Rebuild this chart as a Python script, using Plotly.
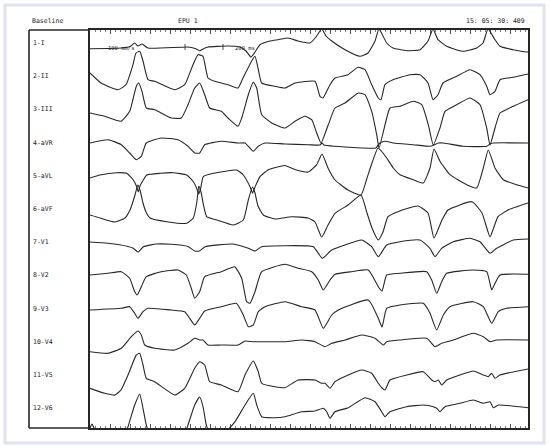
import plotly.graph_objects as go

# ---------------- data (time in ms, amplitude in display units, up = positive) -------------
lead_names = ["1-I", "2-II", "3-III", "4-aVR", "5-aVL", "6-aVF",
              "7-V1", "8-V2", "9-V3", "10-V4", "11-V5", "12-V6"]

t_I = [0, 310, 400, 447, 480, 520, 580, 980, 1050, 1097, 1140, 1180, 1380, 1500, 1560, 1610, 1650, 1700,
       1800, 1880, 1980, 2080, 2200, 2260, 2317, 2360, 2417, 2550, 2700, 2780, 2850, 2890, 2967, 3030,
       3167, 3300, 3380, 3430, 3480, 3567, 3730, 3867, 3930, 3980, 4050, 4100, 4230, 4367, 4380]
a_I = [-5.7, -5, -3.5, 0, -3, -1, -5, -4, -5.5, -7.7, -5.5, -4, -3, -4, -8, -14, -9, -1.7,
       2, 3.3, 5, 2, 0, 6, 14, 7, 2, -6.7, -13.3, -10, 2, 14, 0, -5,
       -7.7, -6.7, 2, 14, 3.3, -3.3, -8.3, -5, 0, 14, 3.3, -3.3, -6.7, -9, -9]

t_II = [0, 110, 280, 360, 430, 460, 497, 530, 580, 647, 847, 947, 1030, 1080, 1130, 1180, 1247, 1380,
        1480, 1530, 1617, 1650, 1680, 1717, 1850, 1950, 2050, 2250, 2300, 2330, 2400, 2450, 2580, 2680,
        2750, 2817, 2883, 2910, 2950, 3030, 3200, 3300, 3380, 3430, 3480, 3530, 3667, 3800, 3900, 3967,
        4000, 4050, 4100, 4230, 4380]
a_II = [3.2, -6.8, -13.5, -8.5, 11.5, 23.2, 24.9, 15.2, -3.5, -5.1, -13.5, -8.5, 11.5, 21.5, 19.9, -1.8, -5.1, -8.5,
        -11.8, -1.8, 15.2, 19.9, 8.2, -6.8, -10.1, -11.8, -6.8, -5.1, -20.1, -21.8, -8.5, -1.8, 1.5, 8.9,
        6.5, -8.5, -21.8, -23.5, -8.5, -3.5, 1.5, 1.5, -6.8, -23.5, -18.5, -6.8, -0.1, 6.5, 1.5, -10.1,
        -18.5, -15.1, -3.5, -1.1, 2.2]

t_III = [0, 147, 310, 397, 463, 487, 520, 563, 647, 813, 913, 980, 1047, 1097, 1147, 1197, 1313, 1380,
         1480, 1517, 1583, 1633, 1667, 1717, 1817, 1950, 2050, 2150, 2217, 2267, 2310, 2383, 2450, 2550,
         2683, 2750, 2817, 2867, 2890, 2967, 3000, 3100, 3233, 3317, 3383, 3433, 3500, 3550, 3667, 3800,
         3900, 3967, 4000, 4050, 4100, 4233, 4380]
a_III = [-3.6, -6.9, -11.9, -1.9, 23.1, 26.4, 18.1, 1.4, -0.3, -8.6, -8.6, 4.7, 21.4, 26.4, 14.7, 1.4, -1.9, -8.6,
         -16.9, -8.6, 14.7, 27.4, 21.4, -5.3, -13.6, -18.6, -11.9, -6.9, -10.3, -23.6, -33.6, -15.3, 1.4, 6.4,
         16.4, 14.7, -1.9, -25.3, -38.6, -8.6, 1.4, 3.1, 8.1, 4.7, -15.3, -35.6, -18.6, -1.9, 4.7, 11.4,
         4.7, -18.6, -35.6, -18.6, -3.6, 3.1, 9.7]

t_aVR = [0, 180, 313, 397, 463, 513, 563, 713, 880, 980, 1047, 1097, 1147, 1313, 1480, 1550, 1633, 1683,
         1750, 1950, 2183, 2300, 2320, 2340, 2450, 2717, 2860, 2880, 2900, 2950, 3033, 3233, 3400, 3440,
         3483, 3533, 3733, 3967, 4000, 4033, 4380]
a_aVR = [-0.4, 2.9, -2.1, -10.4, -17.1, -13.7, -0.4, 4.6, 2.9, -3.7, -10.4, -10.4, -2.1, 1.3, -0.4, -0.4, -8.7, -3.7,
         -0.4, -1.4, -2.1, -2.4, -0.4, -2.4, -3.7, -5.4, -5.4, -2.4, -0.4, 1.3, -0.4, -2.1, -3.7, -2.4,
         -0.4, -0.4, -3.7, -3.7, -1.4, -0.4, -0.4]

t_aVL = [0, 100, 267, 367, 433, 467, 483, 500, 533, 567, 700, 833, 967, 1033, 1067, 1087, 1107, 1133,
         1233, 1467, 1533, 1600, 1625, 1650, 1700, 1783, 1950, 2050, 2183, 2267, 2320, 2380, 2450, 2580,
         2710, 2770, 2820, 2880, 2930, 2967, 3033, 3100, 3233, 3333, 3400, 3440, 3500, 3600, 3767, 3867,
         3933, 3983, 4050, 4133, 4267, 4380]
a_aVL = [-2.2, 0.8, 3.1, 2.5, -4.2, -10.9, -16.2, -10.2, -4.2, 0.8, 2.5, 3.1, 0.8, -5.9, -12.5, -18.2, -12.2, -0.9,
         2.5, 5.8, 0.8, -10.9, -17.2, -11.2, -0.9, 6.1, 10.3, 6.3, 3.8, 11.1, 21.8, 7.8, -4.2, -14.2,
         -19.2, -2.2, 12.8, 27.8, 22.8, 17.8, 7.8, 1.1, -3.9, -7.2, 7.8, 26.8, 14.5, 1.1, -8.9, -12.2,
         7.8, 25.8, 7.8, -3.9, -8.9, -12.2]

t_aVF = [0, 100, 250, 350, 400, 450, 478, 500, 530, 560, 600, 767, 967, 1033, 1067, 1088, 1110, 1135,
         1167, 1267, 1433, 1533, 1583, 1625, 1650, 1680, 1733, 1850, 2017, 2180, 2250, 2317, 2380, 2450,
         2580, 2710, 2770, 2820, 2883, 2930, 2980, 3080, 3280, 3380, 3440, 3520, 3580, 3820, 3920, 4000,
         4080, 4180, 4380]
a_aVF = [-6, -9, -13, -9, -1, 14, 24, 19, 6, -3, -9, -12.7, -14.3, -9, 6, 23, 17, 4,
         -7.7, -11, -16, -11, 9, 22, 16, 3, -6, -10, -7.7, -9, -13, -28, -16, -4.3,
         4, 14, -4, -19, -31, -23, -7.7, -2.7, 3, -4, -29, -11, -1, 7.3, -4, -27.7,
         -7.7, -1, 6]

t_V1 = [0, 180, 380, 433, 480, 535, 667, 813, 980, 1047, 1100, 1150, 1430, 1583, 1650, 1717, 1950, 2233,
        2323, 2417, 2550, 2717, 2817, 2883, 2967, 3100, 3300, 3400, 3450, 3517, 3633, 3800, 3900, 4000,
        4067, 4233, 4380]
a_V1 = [0.2, -1.1, -4.3, -6.1, -9.8, -4.5, -1.8, -2.1, -4.3, -8.8, -8.5, -4.5, -1.8, -6.1, -8.8, -4.5, -3.5, -4.5,
        -16.1, -7.8, -2.8, 2.2, -4.5, -14.5, -2.8, 0.5, 2.2, -6.1, -14.5, -6.1, 0.5, 3.9, 0.5, -11.1,
        -6.1, 2.2, 3.2]

t_V2 = [0, 180, 313, 397, 447, 473, 513, 563, 713, 880, 963, 1013, 1047, 1097, 1147, 1313, 1447, 1517,
        1567, 1600, 1650, 1717, 1950, 2083, 2217, 2283, 2333, 2400, 2450, 2617, 2783, 2883, 2920, 2967,
        3100, 3367, 3417, 3467, 3517, 3567, 3833, 3967, 4017, 4050, 4100, 4380]
a_V2 = [0.4, 2.1, 3.7, -2.9, -16.3, -19.6, -11.3, -1.3, 3.7, 5.4, 0.4, -12.9, -22.9, -16.3, -1.3, 3.7, 8.7, -2.9,
        -26.3, -27.9, -16.3, 3.7, 11.1, 7.1, 3.7, -4.6, -14.6, -4.6, 1.1, 3.7, 5.4, -11.3, -15.6, 0.4,
        2.1, 3.7, -4.6, -17.9, -6.3, 2.1, 5.4, 3.7, -14.6, -7.9, 0.4, 1.1]

t_V3 = [0, 313, 397, 447, 480, 530, 580, 813, 947, 997, 1047, 1097, 1147, 1313, 1463, 1533, 1583, 1633,
        1683, 1750, 1950, 2117, 2250, 2333, 2417, 2483, 2783, 2883, 2920, 2967, 3100, 3333, 3400, 3467,
        3533, 3600, 3833, 3933, 4017, 4083, 4167, 4380]
a_V3 = [-1.4, 0.3, 1.9, -4.7, -9.7, -3.1, 0.3, -1.4, -3.1, -9.7, -16.4, -9.7, -2.4, 1.9, 5.3, -6.4, -18.1, -16.4,
        -3.1, 1.9, 6.9, 1.9, -1.4, -19.7, -6.4, -1.4, 8.6, -9.7, -18.4, 0.3, 3.6, 5.3, -4.7, -21.4,
        -6.4, 1.9, 6.9, 1.9, -14.7, -3.1, 0.3, 1.9]

t_V4 = [0, 180, 313, 413, 480, 513, 547, 647, 847, 980, 1047, 1097, 1130, 1180, 1313, 1480, 1550, 1633,
        1683, 1950, 2117, 2250, 2350, 2417, 2550, 2717, 2850, 2933, 2967, 3100, 3367, 3450, 3517, 3633,
        3833, 3933, 4000, 4067, 4380]
a_V4 = [-9.9, -11.5, -6.5, 5.1, 10.8, 6.8, -3.2, -6.5, -8.2, -1.5, 3.5, 1.8, 1.8, -3.2, -3.2, -3.2, 0.8, 0.1,
        0.1, 0.1, 1.8, 0.1, -4.9, -1.5, 1.8, 6.8, 3.5, -3.2, 0.1, 1.8, 3.5, -4.9, -1.5, 1.8,
        8.5, 5.1, 0.1, 1.8, 1.8]

t_V5 = [0, 147, 250, 310, 380, 463, 497, 530, 563, 647, 847, 947, 1047, 1097, 1147, 1197, 1313, 1480,
        1550, 1633, 1683, 1717, 1850, 1950, 2083, 2250, 2317, 2350, 2400, 2450, 2583, 2717, 2817, 2883,
        2920, 2950, 3000, 3167, 3333, 3417, 3450, 3483, 3517, 3567, 3700, 3833, 3933, 3983, 4017, 4050,
        4100, 4380]
a_V5 = [-13.3, -18.3, -20, -15, 0, 20, 21.7, 10, -3.3, -6.7, -20, -13.3, 6.7, 13.3, 10, -6.7, -10, -16.7,
        0, 14, 3.3, -8.3, -11.7, -12.7, -5, -5, -8.3, -8.3, -13.3, -6.7, 0, 5, 1.7, -8.3,
        -13, -15, -5, 0, 3.3, -5, -6.7, -5, -10, -5, 0, 4, 0, -1.7, 1.7, -3.3,
        0, 6]

t_V6 = [0, 20, 50, 367, 400, 447, 497, 530, 563, 580, 963, 980, 1047, 1097, 1130, 1163, 1180, 1380,
        1450, 1550, 1633, 1667, 1717, 1850, 1950, 2117, 2250, 2333, 2367, 2400, 2450, 2583, 2750, 2850,
        2917, 2950, 3000, 3167, 3333, 3433, 3467, 3500, 3550, 3700, 3833, 3933, 4000, 4033, 4083, 4380]
a_V6 = [-19.8, -15.8, -21, -21, -11.8, 3.2, 14.2, -0.1, -16.8, -21, -21, -16.8, 3.2, 11.2, 1.5, -16.8, -21, -21,
        -13.5, 3.2, 14.9, 3.2, -8.5, -9.5, -8.5, -3.5, -2.8, -0.1, -3.5, -10.1, -3.5, 0.5, 10.5, 6.5,
        -3.5, -8.5, -3.5, 1.5, 3.2, 1.5, -0.1, -3.5, 1.5, 4.9, 8.2, 4.9, 6.5, 0.5, 3.2, 0.5]

lead_times = [t_I, t_II, t_III, t_aVR, t_aVL, t_aVF, t_V1, t_V2, t_V3, t_V4, t_V5, t_V6]
lead_amps = [a_I, a_II, a_III, a_aVR, a_aVL, a_aVF, a_V1, a_V2, a_V3, a_V4, a_V5, a_V6]

header_left = "Baseline"
header_mid = "EPU 1"
header_right = "15: 05: 30: 409"
speed_label = "100 mm/s"
interval_label = "200 ms"
interval_marks_ms = [950, 1330]

# ---------------- layout geometry (pixels) ----------------
W, H = 550, 447
PL, PR, PT, PB = 90, 528, 30, 428      # plot area
BOX_L = 29                               # left edge of label column
FIRST_BASE, SPACING = 43.0, 33.2
X_MAX = 4380
Y_MAX = PB - PT


def px(x):
    return x / W


def py(y):
    return 1 - y / H


def yval(ypx):
    return PB - ypx


FONT = "DejaVu Sans Mono, Liberation Mono, monospace"
INK = "#262626"

fig = go.Figure()

for i, (tt, aa) in enumerate(zip(lead_times, lead_amps)):
    base = yval(FIRST_BASE + SPACING * i)
    fig.add_trace(go.Scatter(
        x=tt, y=[base + a for a in aa], mode="lines",
        line=dict(color=INK, width=1.1, shape="spline", smoothing=0.45),
        hoverinfo="skip", showlegend=False, name=lead_names[i]))

annotations = []
for i, name in enumerate(lead_names):
    annotations.append(dict(x=px(BOX_L + 1.5), y=py(FIRST_BASE + SPACING * i), xref="paper", yref="paper",
                            text=name, showarrow=False, xanchor="left", yanchor="middle",
                            font=dict(family=FONT, size=6.5, color="#1a1a1a")))

annotations += [
    dict(x=px(30), y=py(21), xref="paper", yref="paper", text=header_left, showarrow=False,
         xanchor="left", yanchor="middle", font=dict(family=FONT, size=6.5, color="#1a1a1a")),
    dict(x=px(188), y=py(21), xref="paper", yref="paper", text=header_mid, showarrow=False,
         xanchor="center", yanchor="middle", font=dict(family=FONT, size=6.5, color="#1a1a1a")),
    dict(x=px(527), y=py(21), xref="paper", yref="paper", text=header_right, showarrow=False,
         xanchor="right", yanchor="middle", font=dict(family=FONT, size=6.5, color="#1a1a1a")),
    dict(x=(121 - PL) * 10, y=yval(48), xref="x", yref="y", text=speed_label, showarrow=False,
         xanchor="center", yanchor="middle", font=dict(family=FONT, size=5.5, color=INK)),
    dict(x=(245 - PL) * 10, y=yval(48), xref="x", yref="y", text=interval_label, showarrow=False,
         xanchor="center", yanchor="middle", font=dict(family=FONT, size=5.5, color=INK)),
]

shapes = [
    # outer pale frame
    dict(type="rect", xref="paper", yref="paper", x0=px(5), x1=px(544), y0=py(5), y1=py(443),
         line=dict(color="#dfe3ee", width=3), layer="below"),
    # label column box
    dict(type="line", xref="paper", yref="paper", x0=px(BOX_L), x1=px(BOX_L), y0=py(PT), y1=py(PB),
         line=dict(color=INK, width=1.6)),
    dict(type="line", xref="paper", yref="paper", x0=px(BOX_L), x1=px(PL), y0=py(PT), y1=py(PT),
         line=dict(color=INK, width=1.3)),
    dict(type="line", xref="paper", yref="paper", x0=px(BOX_L), x1=px(PL), y0=py(PB), y1=py(PB),
         line=dict(color=INK, width=1.6)),
]
for m in interval_marks_ms:
    shapes.append(dict(type="line", xref="x", yref="y", x0=m, x1=m, y0=yval(50), y1=yval(44),
                       line=dict(color=INK, width=0.8)))

fig.update_layout(
    width=W, height=H, margin=dict(l=0, r=0, t=0, b=0),
    paper_bgcolor="white", plot_bgcolor="white",
    showlegend=False, annotations=annotations, shapes=shapes,
    xaxis=dict(domain=[px(PL), px(PR)], range=[0, X_MAX], showgrid=False, zeroline=False,
               showticklabels=False, showline=True, linecolor=INK, linewidth=1.6, mirror="ticks",
               ticks="inside", ticklen=4, tickwidth=0.8, tickcolor=INK, tick0=0, dtick=200,
               minor=dict(ticks="inside", ticklen=2, tickwidth=0.6, tickcolor=INK, dtick=50)),
    yaxis=dict(domain=[py(PB), py(PT)], range=[0, Y_MAX], showgrid=False, zeroline=False,
               showticklabels=False, showline=True, linecolor=INK, linewidth=1.6, mirror=True,
               ticks=""),
)

fig.write_html("out.html", config={"displayModeBar": False, "staticPlot": True},
               post_script="document.body.style.margin='0';document.body.style.overflow='hidden';")
